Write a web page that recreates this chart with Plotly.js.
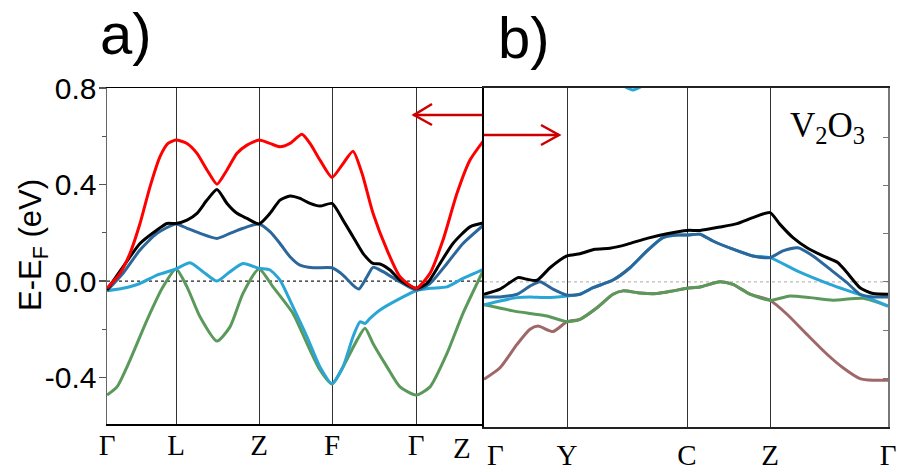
<!DOCTYPE html>
<html>
<head>
<meta charset="utf-8">
<script src="https://cdn.plot.ly/plotly-3.0.1.min.js"></script>
<style>html,body{margin:0;padding:0;background:#fff;}#chart{width:897px;height:472px;}</style>
</head>
<body>
<div id="chart"></div>
<script>
// ---- k-path (panel a) ----
const kposA = [0, 69, 152, 225, 309, 377];
const klabelsA = ['Γ', 'L', 'Z', 'F', 'Γ', 'Z'];
// ---- k-path (panel b) ----
const kposB = [0, 83, 203, 286, 404];
const klabelsB = ['Γ', 'Y', 'C', 'Z', 'Γ'];

const yTickVals = [-0.4, 0.0, 0.4, 0.8];
const yTickText = ['-0.4', '0.0', '0.4', '0.8'];

// ---- panel a bands (E - E_F, eV) ----
const redA_k = [0,13,23,33,43,53,61,69,80,90,100,110,120,130,140,152,163,173,183,195,203,213,225,235,246,255,266,280,293,309,323,336,350,363,377];
const redA_e = [-0.030,0.032,0.115,0.239,0.391,0.516,0.571,0.585,0.571,0.530,0.461,0.402,0.461,0.530,0.564,0.585,0.571,0.557,0.571,0.609,0.571,0.502,0.430,0.481,0.539,0.447,0.281,0.129,0.018,-0.030,0.032,0.170,0.364,0.502,0.585];

const blackA_k = [0,16,33,50,60,69,80,90,100,110,120,130,140,152,163,173,183,193,203,213,225,236,246,256,266,273,283,293,309,320,333,346,363,377];
const blackA_e = [-0.037,0.059,0.156,0.212,0.239,0.239,0.253,0.281,0.336,0.380,0.322,0.281,0.260,0.237,0.281,0.336,0.353,0.343,0.322,0.311,0.322,0.253,0.184,0.115,0.073,0.071,0.046,0.004,-0.030,-0.010,0.073,0.156,0.225,0.242];

const blueA_k = [0,16,33,50,69,80,93,110,123,136,152,163,173,183,193,206,225,236,246,252,260,266,276,290,309,323,340,356,377];
const blueA_e = [-0.040,0.032,0.129,0.198,0.237,0.219,0.198,0.177,0.198,0.219,0.237,0.205,0.156,0.101,0.066,0.055,0.055,0.025,-0.017,-0.033,0.018,0.057,0.039,0.004,-0.037,-0.010,0.073,0.156,0.234];

const cyanA_k = [0,16,33,50,69,83,96,110,123,136,152,163,173,186,200,213,225,236,246,253,258,263,273,290,309,323,340,356,377];
const cyanA_e = [-0.040,-0.030,-0.010,0.025,0.050,0.076,0.039,0.000,0.039,0.073,0.053,0.046,0.004,-0.107,-0.231,-0.356,-0.425,-0.356,-0.231,-0.169,-0.176,-0.155,-0.120,-0.079,-0.040,-0.030,-0.024,0.011,0.050];

const greenA_k = [0,10,23,40,56,69,80,93,110,123,136,152,166,186,200,213,225,236,250,258,266,280,293,309,323,340,356,377];
const greenA_e = [-0.473,-0.439,-0.328,-0.162,-0.024,0.050,-0.024,-0.148,-0.249,-0.190,-0.051,0.050,-0.024,-0.134,-0.259,-0.369,-0.427,-0.356,-0.245,-0.196,-0.259,-0.356,-0.439,-0.473,-0.439,-0.300,-0.134,0.050];

// ---- panel b bands (E - E_F, eV) ----
const blackB_k = [0,16,34,43,53,66,83,96,111,126,143,163,183,203,216,236,253,269,286,296,309,323,339,354,363,376,389,404];
const blackB_e = [-0.051,-0.030,0.018,0.011,0.007,0.059,0.108,0.117,0.136,0.140,0.156,0.181,0.200,0.214,0.214,0.228,0.242,0.267,0.288,0.239,0.184,0.142,0.108,0.080,0.039,-0.024,-0.048,-0.051];

const blueB_k = [0,16,33,46,56,69,83,96,109,129,146,163,179,193,203,216,229,249,269,286,299,314,329,346,363,376,389,404];
const blueB_e = [-0.062,-0.062,-0.051,-0.017,0.001,-0.030,-0.055,-0.051,-0.024,0.008,0.059,0.129,0.184,0.195,0.195,0.198,0.170,0.136,0.108,0.101,0.129,0.142,0.108,0.053,-0.003,-0.051,-0.062,-0.062];

const cyanB_k = [0,16,33,46,63,83,96,109,129,146,163,179,193,203,216,229,249,269,286,313,346,379,404];
const cyanB_e = [-0.095,-0.079,-0.065,-0.062,-0.065,-0.058,-0.051,-0.024,0.008,0.059,0.129,0.184,0.195,0.195,0.198,0.170,0.136,0.108,0.101,0.046,-0.010,-0.058,-0.100];

const greenB_k = [0,29,46,63,83,96,113,129,139,156,173,189,203,216,236,249,266,286,306,326,349,379,404];
const greenB_e = [-0.095,-0.120,-0.131,-0.141,-0.165,-0.155,-0.107,-0.051,-0.037,-0.046,-0.048,-0.037,-0.026,-0.021,0.001,-0.010,-0.051,-0.076,-0.058,-0.065,-0.076,-0.068,-0.100];

const brownB_k = [0,16,33,46,54,69,83,96,113,129,139,156,173,189,203,216,236,249,266,286,303,323,343,359,376,389,404];
const brownB_e = [-0.404,-0.356,-0.259,-0.196,-0.183,-0.206,-0.165,-0.155,-0.107,-0.051,-0.037,-0.046,-0.048,-0.037,-0.026,-0.021,0.001,-0.010,-0.051,-0.076,-0.134,-0.218,-0.300,-0.356,-0.401,-0.408,-0.408];

// band poking in at the top of panel b
const cyanTop_k = [133, 149, 165];
const cyanTop_e = [0.83, 0.797, 0.83];

// ---- styling ----
const C = {red:'#ff0000', black:'#000000', blue:'#2c679c', cyan:'#2aa6d6', green:'#5b995b', brown:'#9e6868'};
const W = 3;
function band(k, e, color, xa, ya) {
  return {x:k, y:e, type:'scatter', mode:'lines', xaxis:xa, yaxis:ya,
          line:{color:color, width:W, shape:'spline', smoothing:0.6}, hoverinfo:'skip', showlegend:false};
}

const traces = [
  band(greenA_k, greenA_e, C.green, 'x', 'y'),
  band(cyanA_k, cyanA_e, C.cyan, 'x', 'y'),
  band(blueA_k, blueA_e, C.blue, 'x', 'y'),
  band(blackA_k, blackA_e, C.black, 'x', 'y'),
  band(redA_k, redA_e, C.red, 'x', 'y'),
  band(brownB_k, brownB_e, C.brown, 'x2', 'y2'),
  band(greenB_k, greenB_e, C.green, 'x2', 'y2'),
  band(cyanB_k, cyanB_e, C.cyan, 'x2', 'y2'),
  band(blueB_k, blueB_e, C.blue, 'x2', 'y2'),
  band(blackB_k, blackB_e, C.black, 'x2', 'y2'),
  band(cyanTop_k, cyanTop_e, C.cyan, 'x2', 'y3')
];

const FW = 897, FH = 472;
const px = (x) => x / FW;
const py = (y) => 1 - y / FH;
function path(pts) { return pts.map((p, i) => (i ? 'L ' : 'M ') + px(p[0]) + ',' + py(p[1])).join(' '); }

const arrowColor = '#cc0000';
const shapes = [
  {type:'line', xref:'x domain', x0:0, x1:1, yref:'y', y0:0, y1:0, layer:'below', line:{color:'#222', width:1.2, dash:'dot'}},
  {type:'line', xref:'x2 domain', x0:0, x1:1, yref:'y2', y0:0, y1:0, layer:'below', line:{color:'#bbbbbb', width:1.2, dash:'dot'}},
  {type:'path', xref:'paper', yref:'paper', path:path([[482,115],[413,115]]), line:{color:arrowColor, width:2.5}},
  {type:'path', xref:'paper', yref:'paper', path:path([[432,104],[414,115],[432,125]]), line:{color:arrowColor, width:2.5}},
  {type:'path', xref:'paper', yref:'paper', path:path([[484,135],[559,135]]), line:{color:arrowColor, width:2.5}},
  {type:'path', xref:'paper', yref:'paper', path:path([[541,125],[559,135],[541,145]]), line:{color:arrowColor, width:2.5}}
];

const serif = 'Liberation Serif, Times New Roman, serif';
const sans = 'Liberation Sans, Arial, sans-serif';
const kFont = {family: serif, size: 29, color: '#000'};

// the labels sitting on the shared panel edge are drawn as annotations, nudged off the edge
const lastA = kposA.length - 1;
const tickValsA = kposA.slice(0, lastA), tickTextA = klabelsA.slice(0, lastA);
const tickValsB = kposB.slice(1), tickTextB = klabelsB.slice(1);

const layout = {
  width: FW, height: FH,
  margin: {l:0, r:0, t:0, b:0},
  paper_bgcolor: '#fff', plot_bgcolor: '#fff',
  showlegend: false,
  xaxis: {
    domain: [107/FW, 484/FW], range: [kposA[0], kposA[lastA]], anchor: 'y',
    tickmode: 'array', tickvals: tickValsA, ticktext: tickTextA, ticks: '',
    tickfont: kFont, ticklabelstandoff: -5,
    showgrid: true, gridcolor: '#333', gridwidth: 1,
    showline: true, linecolor: '#000', linewidth: 1.5, mirror: true, zeroline: false
  },
  yaxis: {
    domain: [48/FH, 384/FH], range: [-0.593, 0.801], anchor: 'x',
    tickmode: 'array', tickvals: yTickVals, ticktext: yTickText,
    ticks: 'outside', ticklen: 7, tickwidth: 1.5, tickcolor: '#555', ticklabelstandoff: -4,
    minor: {dtick: 0.2, tick0: 0, ticks: 'outside', ticklen: 4, tickwidth: 1.2, tickcolor: '#555', showgrid: false},
    tickfont: {family: sans, size: 30, color: '#000'},
    showgrid: false, zeroline: false, showline: true, linecolor: '#666', linewidth: 1.5
  },
  xaxis2: {
    domain: [484/FW, 888/FW], range: [kposB[0], kposB[kposB.length-1]], anchor: 'y2',
    tickmode: 'array', tickvals: tickValsB, ticktext: tickTextB, ticks: '',
    tickfont: kFont, ticklabelstandoff: 1,
    showgrid: true, gridcolor: '#333', gridwidth: 1,
    showline: true, linecolor: '#222', linewidth: 2, mirror: true, zeroline: false
  },
  yaxis2: {
    domain: [45/FH, 384/FH], range: [-0.602, 0.805], anchor: 'x2',
    showticklabels: false, ticks: '', showgrid: false, zeroline: false,
    showline: true, linecolor: '#000', linewidth: 2.5
  },
  yaxis3: {
    domain: [45/FH, 384/FH], range: [-0.602, 0.805], anchor: 'x2', overlaying: 'y2', side: 'right',
    showticklabels: false, ticks: 'inside', ticklen: 5, tickcolor: '#777', tickwidth: 1,
    tickmode: 'array', tickvals: [-0.4, -0.2, 0, 0.2, 0.4, 0.6],
    showgrid: false, zeroline: false, showline: true, linecolor: '#777', linewidth: 1.5
  },
  shapes: shapes,
  annotations: [
    {text: klabelsA[lastA], xref:'x', yref:'paper', x: kposA[lastA], xshift: -22,
     y: py(448), xanchor:'center', yanchor:'middle', showarrow:false, font: kFont},
    {text: klabelsB[0], xref:'x2', yref:'paper', x: kposB[0], xshift: 11,
     y: py(455), xanchor:'center', yanchor:'middle', showarrow:false, font: kFont},
    {text: 'a)', xref:'paper', yref:'paper', x: px(98), y: py(33), xanchor:'left', yanchor:'middle', showarrow:false,
     font:{family: sans, size: 58, color:'#000'}},
    {text: 'b)', xref:'paper', yref:'paper', x: px(496), y: py(37), xanchor:'left', yanchor:'middle', showarrow:false,
     font:{family: sans, size: 58, color:'#000'}},
    {text: 'V<sub>2</sub>O<sub>3</sub>', xref:'paper', yref:'paper', x: px(788), y: py(128), xanchor:'left', yanchor:'middle', showarrow:false,
     font:{family: serif, size: 35, color:'#000'}},
    {text: 'E-E<sub>F</sub> (eV)', xref:'paper', yref:'paper', x: px(33), y: py(245), xanchor:'center', yanchor:'middle', textangle:-90, showarrow:false,
     font:{family: sans, size: 31, color:'#000'}}
  ]
};

Plotly.newPlot('chart', traces, layout, {staticPlot: true, displayModeBar: false});
</script>
</body>
</html>
